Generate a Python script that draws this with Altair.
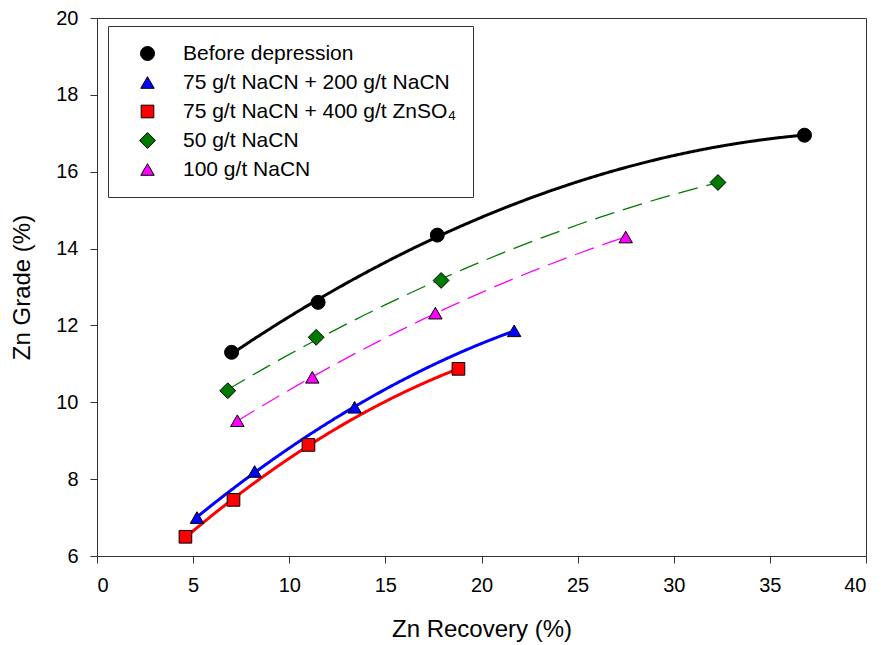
import altair as alt
import pandas as pd

FONT = "Liberation Sans"

series = [
    "Before depression",
    "75 g/t NaCN + 200 g/t NaCN",
    "75 g/t NaCN + 400 g/t ZnSO₄",
    "50 g/t NaCN",
    "100 g/t NaCN",
]

x_before = [7.0, 11.5, 17.7, 36.8]
y_before = [11.3, 12.6, 14.35, 16.95]

x_nacn200 = [5.2, 8.2, 13.4, 21.7]
y_nacn200 = [7.0, 8.2, 9.87, 11.86]

x_znso4 = [4.6, 7.1, 11.0, 18.8]
y_znso4 = [6.5, 7.46, 8.89, 10.87]

x_nacn50 = [6.8, 11.4, 17.9, 32.3]
y_nacn50 = [10.3, 11.69, 13.17, 15.72]

x_nacn100 = [7.3, 11.2, 17.6, 27.5]
y_nacn100 = [9.52, 10.65, 12.32, 14.3]

xs = [x_before, x_nacn200, x_znso4, x_nacn50, x_nacn100]
ys = [y_before, y_nacn200, y_znso4, y_nacn50, y_nacn100]

colors = ["#000000", "#0000ff", "#ff0000", "#007a00", "#ff00ff"]
shapes = ["circle", "triangle-up", "square", "diamond", "triangle-up"]
sizes = [196, 180, 160, 250, 180]
widths = [3, 3, 3, 1.3, 1.3]
dashes = [[1, 0], [1, 0], [1, 0], [20, 9], [20, 9]]

rows = []
for name, xv, yv in zip(series, xs, ys):
    for a, b in zip(xv, yv):
        rows.append({"series": name, "x": a, "y": b})
df = pd.DataFrame(rows)

xscale = alt.Scale(domain=[0, 40], nice=False)
yscale = alt.Scale(domain=[6, 20], nice=False)

xaxis = alt.Axis(
    title="Zn Recovery (%)", values=list(range(0, 41, 5)), grid=False,
    labelFont=FONT, labelFontSize=20, titleFont=FONT, titleFontSize=24,
    titleFontWeight="normal", labelColor="black", titleColor="black",
    tickSize=7, tickColor="#333", domainColor="#333", labelPadding=12, titlePadding=22,
)
yaxis = alt.Axis(
    title="Zn Grade (%)", values=list(range(6, 21, 2)), grid=False,
    labelFont=FONT, labelFontSize=20, titleFont=FONT, titleFontSize=24,
    titleFontWeight="normal", labelColor="black", titleColor="black",
    tickSize=7, tickColor="#333", domainColor="#333", labelPadding=12, titlePadding=21,
)

base = alt.Chart(df)

layers = []
for name, c, w, d in zip(series, colors, widths, dashes):
    layers.append(
        base.transform_filter(alt.datum.series == name)
        .transform_regression("x", "y", method="poly", order=2)
        .mark_line(color=c, strokeWidth=w, strokeDash=d)
        .encode(x=alt.X("x:Q", scale=xscale, axis=xaxis),
                y=alt.Y("y:Q", scale=yscale, axis=yaxis))
    )

legend_kw = dict(
    title=None, orient="none", legendX=11, legendY=8,
    strokeColor="#333", fillColor="white", padding=17,
    labelFont=FONT, labelFontSize=21, labelColor="black", labelLimit=500,
    symbolStrokeColor="black", symbolStrokeWidth=1,
    rowPadding=7, labelOffset=25, symbolOffset=12,
)

points = base.mark_point(filled=True, stroke="black", strokeWidth=1, opacity=1).encode(
    x=alt.X("x:Q", scale=xscale, axis=xaxis),
    y=alt.Y("y:Q", scale=yscale, axis=yaxis),
    color=alt.Color("series:N", scale=alt.Scale(domain=series, range=colors),
                    legend=alt.Legend(**legend_kw)),
    shape=alt.Shape("series:N", scale=alt.Scale(domain=series, range=shapes),
                    legend=alt.Legend(**legend_kw)),
    size=alt.Size("series:N", scale=alt.Scale(type="ordinal", domain=series, range=sizes),
                  legend=alt.Legend(**legend_kw)),
)

chart = alt.layer(*layers, points).properties(
    width=769, height=538, autosize="none",
    padding={"left": 97, "top": 18, "right": 15, "bottom": 89},
).configure_view(stroke="#333", strokeWidth=1)

chart.save("out.html", embed_options={"renderer": "svg", "actions": False})
